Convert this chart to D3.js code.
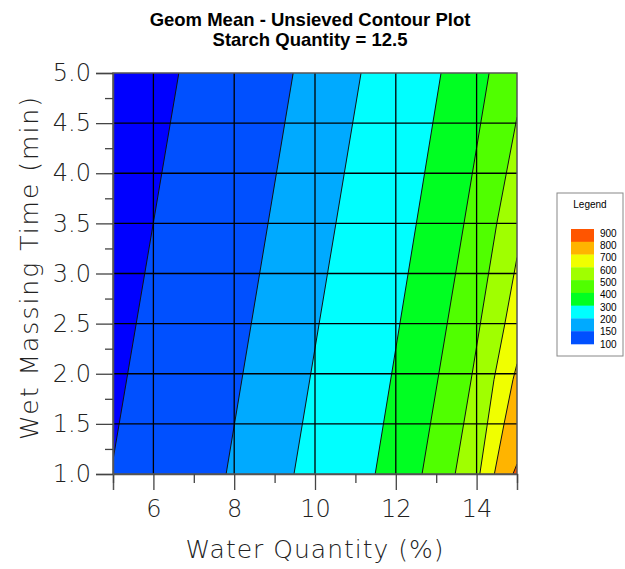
<!DOCTYPE html>
<html lang="en">
<head>
    <meta charset="UTF-8">
    <title>Geom Mean - Unsieved Contour Plot</title>
    <script src="https://d3js.org/d3.v7.min.js"></script>
    <style>
        body { margin: 0; background: #fff; }
        svg { display: block; }
        .title { font-family: "Liberation Sans", Arial, sans-serif; font-weight: bold; font-size: 18.5px; fill: #000; }
        .axis-text { font-family: "DejaVu Sans", sans-serif; font-weight: 200; fill: #222; }
        .legend-text { font-family: "Liberation Sans", Arial, sans-serif; font-size: 10px; fill: #000; }
    </style>
</head>
<body>
    <div id="chart"></div>

    <script>
        // contour levels and band colours (band i lies above level i)
        const levels = [100, 150, 200, 300, 400, 500, 600, 700, 800, 900];
        const bandColors = ["#0050ff", "#00aaff", "#00ffff", "#00ff22", "#50ff00",
                            "#a0ff00", "#f0ff00", "#ffb400", "#ff5500"];
        const baseColor = "#0000ff"; // below 100

        // contour lines: [water %, wet massing time]
        const line100 = [[5, 1.14], [6.63, 5]];
        const line150 = [[7.80, 1], [9.46, 5]];
        const line200 = [[9.48, 1], [11.14, 5]];
        const line300 = [[11.49, 1], [13.12, 5]];
        const line400 = [[12.65, 1], [13.48, 3], [14.31, 5]];
        const line500 = [[13.47, 1], [13.89, 2], [14.50, 3.5], [15, 4.56]];
        const line600 = [[14.08, 1], [14.43, 1.94], [14.70, 2.5], [15, 3.16]];
        const line700 = [[14.44, 1], [14.68, 1.5], [14.90, 1.94], [15, 2.1]];
        const line800 = [[14.90, 1], [15, 1.1]];
        const contourLines = [line100, line150, line200, line300, line400, line500, line600, line700, line800];

        const xTicks = [6, 8, 10, 12, 14];
        const yTicks = [1.0, 1.5, 2.0, 2.5, 3.0, 3.5, 4.0, 4.5, 5.0];

        const W = 625, H = 569;
        const margin = {top: 73, right: 108, bottom: 95, left: 113};
        const width = W - margin.left - margin.right;
        const height = H - margin.top - margin.bottom;

        const svg = d3.select("#chart").append("svg")
            .attr("width", W)
            .attr("height", H);

        // titles
        svg.append("text").attr("class", "title")
            .attr("x", 310).attr("y", 26)
            .attr("text-anchor", "middle")
            .text("Geom Mean - Unsieved Contour Plot");
        svg.append("text").attr("class", "title")
            .attr("x", 310).attr("y", 46)
            .attr("text-anchor", "middle")
            .text("Starch Quantity = 12.5");

        const g = svg.append("g")
            .attr("transform", `translate(${margin.left},${margin.top})`);

        const x = d3.scaleLinear().domain([5, 15]).range([0, width]);
        const y = d3.scaleLinear().domain([1, 5]).range([height, 0]);

        g.append("clipPath").attr("id", "plot-clip")
            .append("rect").attr("width", width).attr("height", height);

        const plot = g.append("g").attr("clip-path", "url(#plot-clip)");

        plot.append("rect")
            .attr("width", width).attr("height", height)
            .attr("fill", baseColor);

        // fill the region right of each contour with its band colour
        const [xMin, xMax] = x.domain();
        const yMin = y.domain()[0];
        const area = d3.line().x(d => x(d[0])).y(d => y(d[1]));
        contourLines.forEach((pts, i) => {
            const first = pts[0], last = pts[pts.length - 1];
            const poly = pts.concat([[xMax, last[1]], [xMax, yMin], [first[0], yMin]]);
            plot.append("path")
                .attr("d", area(poly) + "Z")
                .attr("fill", bandColors[i]);
        });

        // contour lines
        contourLines.forEach(pts => {
            plot.append("path")
                .attr("d", area(pts))
                .attr("fill", "none")
                .attr("stroke", "#111")
                .attr("stroke-width", 1);
        });

        // grid
        plot.selectAll(".vgrid").data(xTicks).enter().append("line")
            .attr("x1", d => x(d)).attr("x2", d => x(d))
            .attr("y1", 0).attr("y2", height)
            .attr("stroke", "#000").attr("stroke-width", 1.3);
        plot.selectAll(".hgrid").data(yTicks.slice(1, -1)).enter().append("line")
            .attr("y1", d => y(d)).attr("y2", d => y(d))
            .attr("x1", 0).attr("x2", width)
            .attr("stroke", "#000").attr("stroke-width", 1.3);

        // border
        g.append("rect")
            .attr("width", width).attr("height", height)
            .attr("fill", "none").attr("stroke", "#555").attr("stroke-width", 1.5);

        // x axis
        g.append("g")
            .attr("transform", `translate(0,${height})`)
            .call(d3.axisBottom(x).tickValues(xTicks).tickSize(16).tickPadding(10).tickFormat(d3.format("d")));
        g.append("g")
            .attr("transform", `translate(0,${height})`)
            .call(d3.axisBottom(x).tickValues(d3.range(5, 15.01, 2)).tickSize(9).tickFormat(""))
            .call(a => a.select(".domain").remove());

        // y axis
        g.append("g")
            .call(d3.axisLeft(y).tickValues(yTicks).tickSize(17).tickPadding(5).tickFormat(d3.format(".1f")));
        g.append("g")
            .call(d3.axisLeft(y).tickValues(d3.range(1.25, 5, 0.5)).tickSize(8).tickFormat(""))
            .call(a => a.select(".domain").remove());

        g.selectAll(".domain").attr("stroke", "#555").attr("stroke-width", 1.5);
        g.selectAll(".tick line").attr("stroke", "#444").attr("stroke-width", 1.3);
        g.selectAll(".tick text")
            .attr("class", "axis-text")
            .style("font-size", "24px");

        // axis titles
        svg.append("text").attr("class", "axis-text")
            .attr("x", margin.left + width / 2).attr("y", 558)
            .attr("text-anchor", "middle")
            .style("font-size", "25px")
            .style("letter-spacing", "1px")
            .text("Water Quantity (%)");
        svg.append("text").attr("class", "axis-text")
            .attr("transform", `translate(38,${margin.top + height / 2 - 6}) rotate(-90)`)
            .attr("text-anchor", "middle")
            .style("font-size", "25px")
            .style("letter-spacing", "2px")
            .text("Wet Massing Time (min)");

        // legend
        const lg = svg.append("g").attr("transform", "translate(557,193)");
        lg.append("rect")
            .attr("width", 66).attr("height", 163)
            .attr("fill", "#fff").attr("stroke", "#888");
        lg.append("text").attr("class", "legend-text")
            .attr("x", 33).attr("y", 15)
            .attr("text-anchor", "middle")
            .text("Legend");

        const legendLevels = levels.slice().reverse();
        const ly = d3.scalePoint().domain(legendLevels).range([40, 151]);
        const swatchH = (151 - 36) / bandColors.length;
        lg.selectAll(".sw").data(bandColors.slice().reverse()).enter().append("rect")
            .attr("x", 14).attr("width", 23)
            .attr("y", (d, i) => 36 + i * swatchH)
            .attr("height", swatchH + 0.3)
            .attr("fill", d => d);
        lg.selectAll(".lab").data(legendLevels).enter().append("text")
            .attr("class", "legend-text")
            .attr("x", 43)
            .attr("y", d => ly(d) + 3.5)
            .text(d => d);
    </script>
</body>
</html>
